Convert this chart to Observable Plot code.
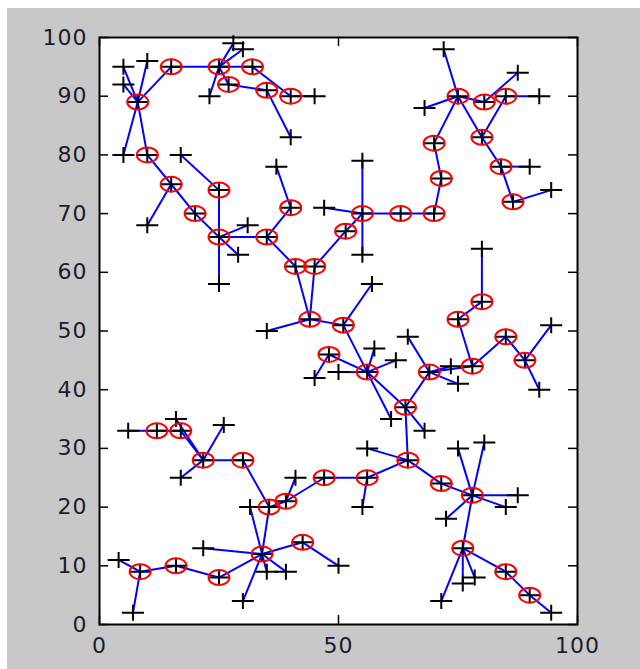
<!DOCTYPE html>
<html>
<head>
<meta charset="utf-8">
<script src="https://cdn.jsdelivr.net/npm/d3@7"></script>
<script src="https://cdn.jsdelivr.net/npm/@observablehq/plot@0.6"></script>
<style>
html, body { margin: 0; padding: 0; background: #ffffff; }
#chart { position: absolute; left: 0; top: 0; width: 640px; height: 669px; }
#chart svg {
  background: linear-gradient(#c8c8c8, #c8c8c8) 7px 8px / 633px 661px no-repeat, #ffffff !important;
}
#chart svg text { letter-spacing: 1px; }
</style>
</head>
<body>
<div id="chart"></div>
<script>
// Hub nodes (red circles)
const hubs = [
  [8,89],[15,95],[25,95],[32,95],[27,92],[35,91],[40,90],
  [10,80],[15,75],[20,70],[25,74],[25,66],[35,66],[40,71],
  [41,61],[45,61],[51.5,67],[55,70],[63,70],[70,70],[71.5,76],
  [70,82],[75,90],[80.5,89],[85,90],[80,83],[84,78],[86.5,72],
  [44,52],[51,51],[48,46],[56,43],[64,37],[69,43],[75,52],[80,55],
  [78,44],[85,49],[89,45],
  [12,33],[17,33],[21.7,28],[30,28],[35.5,20],[39,21],[47,25],
  [56,25],[64.5,28],[71.5,24],[78,22],[76,13],[85,9],[90,5],
  [34,12],[42.5,14],[25,8],[16,10],[8.5,9]
];

// Terminal nodes (black plus only)
const terminals = [
  [5,95],[10,96],[5,92],[28,99],[30,98],[23,90],[45,90],[40,83],
  [5,80],[17,80],[37,78],[10,68],[31,68],[29,63],[25,58],[47,71],
  [55,79],[55,63],[72,98],[68,88],[87.5,94],[92,90],[90,78],[94.5,74],
  [80,64],[57,58],[35,50],[45,42],[50,43],[57.5,47],[62,45],[61,35],
  [68,33],[64.5,49],[73.5,44],[75,41],[94.5,51],[92,40],
  [6,33],[16,35],[26,34],[17,25],[41,25],[31.5,20],[21.7,13],[4,11],
  [7,2],[30,4],[35,9],[39,9],[50,10],[56,30],[55,20],[75,30],
  [80.5,31],[87.5,22],[85,20],[72.5,18],[71.5,4],[76,7],[78.5,8],[94.5,2]
];

// Connections [x1, y1, x2, y2]
const links = [
  [5,95,8,89],[10,96,8,89],[5,92,8,89],[15,95,8,89],[8,89,5,80],[8,89,10,80],
  [15,95,25,95],[25,95,28,99],[25,95,30,98],[25,95,23,90],[25,95,27,92],[25,95,32,95],
  [27,92,35,91],[35,91,40,83],[32,95,40,90],[40,90,45,90],
  [10,80,15,75],[15,75,20,70],[15,75,10,68],[20,70,25,66],[17,80,25,74],[25,74,25,66],
  [25,66,25,58],[25,66,31,68],[25,66,29,63],[25,66,35,66],[35,66,40,71],[40,71,37,78],
  [35,66,41,61],[41,61,44,52],[45,61,44,52],[45,61,51.5,67],[51.5,67,55,70],[47,71,55,70],
  [55,70,55,79],[55,70,55,63],[55,70,63,70],[63,70,70,70],[70,70,71.5,76],[71.5,76,70,82],
  [70,82,75,90],[75,90,72,98],[75,90,68,88],[75,90,80.5,89],[80.5,89,87.5,94],[75,90,80,83],
  [85,90,80,83],[85,90,92,90],[80,83,84,78],[84,78,90,78],[84,78,86.5,72],[86.5,72,94.5,74],
  [44,52,35,50],[44,52,51,51],[51,51,57,58],[51,51,56,43],[48,46,56,43],[48,46,45,42],
  [50,43,56,43],[56,43,57.5,47],[56,43,62,45],[56,43,61,35],[56,43,64,37],
  [64,37,69,43],[64,37,68,33],[64,37,64.5,28],[69,43,64.5,49],[69,43,73.5,44],[69,43,75,41],
  [69,43,78,44],[78,44,75,52],[75,52,80,55],[80,55,80,64],[78,44,85,49],[85,49,89,45],
  [89,45,94.5,51],[89,45,92,40],
  [6,33,12,33],[12,33,17,33],[17,33,21.7,28],[16,35,21.7,28],[21.7,28,26,34],[21.7,28,17,25],
  [21.7,28,30,28],[30,28,35.5,20],[35.5,20,39,21],[39,21,41,25],[39,21,47,25],
  [31.5,20,34,12],[35.5,20,34,12],[34,12,42.5,14],[42.5,14,50,10],[34,12,21.7,13],
  [34,12,25,8],[34,12,35,9],[34,12,39,9],[34,12,30,4],[25,8,16,10],[16,10,8.5,9],
  [8.5,9,4,11],[8.5,9,7,2],
  [47,25,56,25],[56,25,55,20],[56,25,64.5,28],[56,30,64.5,28],[64.5,28,71.5,24],[71.5,24,78,22],
  [78,22,75,30],[78,22,80.5,31],[78,22,87.5,22],[78,22,85,20],[78,22,72.5,18],[78,22,76,13],
  [76,13,71.5,4],[76,13,76,7],[76,13,78.5,8],[76,13,85,9],[85,9,90,5],[90,5,94.5,2]
];

const xTicks = [0, 50, 100];
const yTicks = [0, 10, 20, 30, 40, 50, 60, 70, 80, 90, 100];

const W = 640, H = 669, ML = 99, MR = 63, MT = 37, MB = 45;
const PW = W - ML - MR, PH = H - MT - MB;
const TICK = 9;

const plusSym = {
  draw(ctx) {
    ctx.moveTo(-11, 0); ctx.lineTo(11, 0);
    ctx.moveTo(0, -8); ctx.lineTo(0, 8);
  }
};
const ellSym = {
  draw(ctx) {
    const rx = 10.5, ry = 7.5, k = 0.5523;
    ctx.moveTo(rx, 0);
    ctx.bezierCurveTo(rx, ry * k, rx * k, ry, 0, ry);
    ctx.bezierCurveTo(-rx * k, ry, -rx, ry * k, -rx, 0);
    ctx.bezierCurveTo(-rx, -ry * k, -rx * k, -ry, 0, -ry);
    ctx.bezierCurveTo(rx * k, -ry, rx, -ry * k, rx, 0);
    ctx.closePath();
  }
};

const nodes = hubs.concat(terminals);
const font = "DejaVu Sans, Verdana, sans-serif";

const chart = Plot.plot({
  width: W, height: H,
  marginLeft: ML, marginRight: MR, marginTop: MT, marginBottom: MB,
  style: { fontFamily: font, fontSize: "22px", color: "#1c1c2e" },
  x: { domain: [0, 100], axis: null },
  y: { domain: [0, 100], axis: null },
  marks: [
    Plot.frame({ fill: "#ffffff", stroke: "none" }),
    Plot.link(links, {
      x1: d => d[0], y1: d => d[1], x2: d => d[2], y2: d => d[3],
      stroke: "#0000ff", strokeWidth: 2
    }),
    Plot.dot(nodes, { x: d => d[0], y: d => d[1], symbol: plusSym, stroke: "#000000", strokeWidth: 2, fill: "none" }),
    Plot.dot(hubs, { x: d => d[0], y: d => d[1], symbol: ellSym, stroke: "#ff0000", strokeWidth: 2, fill: "none" }),
    // inward ticks on all four sides
    Plot.tickY(yTicks, { y: d => d, insetRight: PW - TICK, stroke: "#000", strokeWidth: 1.5 }),
    Plot.tickY(yTicks, { y: d => d, insetLeft: PW - TICK, stroke: "#000", strokeWidth: 1.5 }),
    Plot.tickX(xTicks, { x: d => d, insetTop: PH - TICK, stroke: "#000", strokeWidth: 1.5 }),
    Plot.tickX(xTicks, { x: d => d, insetBottom: PH - TICK, stroke: "#000", strokeWidth: 1.5 }),
    Plot.axisX(xTicks, { tickSize: 0, tickPadding: 13, label: null, fontSize: 22, fill: "#1c1c2e" }),
    Plot.axisY(yTicks, { tickSize: 0, tickPadding: 12, label: null, fontSize: 22, fill: "#1c1c2e" }),
    Plot.frame({ stroke: "#000000", strokeWidth: 2 })
  ]
});

document.getElementById("chart").appendChild(chart);
</script>
</body>
</html>
